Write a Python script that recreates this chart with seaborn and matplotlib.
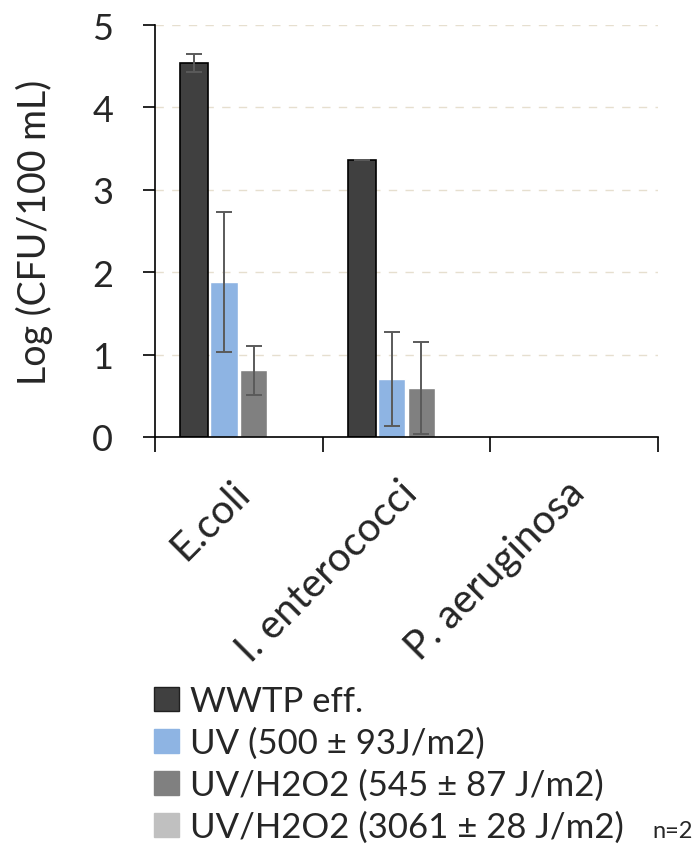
import matplotlib
matplotlib.use("Agg")
from matplotlib import pyplot as plt
from matplotlib.patches import Patch
from matplotlib.container import BarContainer
import matplotlib.transforms as mtrans
import seaborn as sns
import numpy as np
import pandas as pd

# 数据
categories = ["E.coli", "I. enterococci", "P. aeruginosa"]
series = ["WWTP eff.", "UV (500 ± 93J/m2)", "UV/H2O2 (545 ± 87 J/m2)", "UV/H2O2 (3061 ± 28 J/m2)"]
wwtp = [4.54, 3.36, 0.0]
uv = [1.88, 0.70, 0.0]
uvh2o2_low = [0.81, 0.59, 0.0]
uvh2o2_high = [0.0, 0.0, 0.0]
wwtp_err = [0.11, 0.0, 0.0]
uv_err = [0.85, 0.57, 0.0]
uvh2o2_low_err = [0.30, 0.56, 0.0]
uvh2o2_high_err = [0.0, 0.0, 0.0]

colors = ["#404040", "#8EB4E3", "#808080", "#C0C0C0"]

values = [wwtp, uv, uvh2o2_low, uvh2o2_high]
errors = [wwtp_err, uv_err, uvh2o2_low_err, uvh2o2_high_err]
rows = []
for s, v in zip(series, values):
    for c, y in zip(categories, v):
        rows.append({"cat": c, "series": s, "val": y})
df = pd.DataFrame(rows)

sns.set_style("white")
plt.rcParams['font.family'] = ['Lato', 'DejaVu Sans']

fig = plt.figure(figsize=(6.95, 8.45), dpi=100)
ax = fig.add_axes([0.223, 0.4817, 0.724, 0.4875])

sns.barplot(data=df, x="cat", y="val", hue="series", order=categories,
            hue_order=series, palette=colors, width=0.71, gap=0.08,
            saturation=1, errorbar=None, legend=False, ax=ax)

# 误差棒，按柱子位置画
barConts = [c for c in ax.containers if isinstance(c, BarContainer)]
for k, cont in enumerate(barConts):
    for j, p in enumerate(cont.patches):
        if values[k][j] <= 0:
            p.set_linewidth(0)
            continue
        if k == 0:
            p.set_edgecolor("black")
            p.set_linewidth(1.2)
        xc = p.get_x() + p.get_width() / 2
        ax.errorbar(xc, values[k][j], yerr=errors[k][j], color="#5a5a5a",
                    lw=1.4, capsize=6, capthick=1.4, fmt="none", zorder=5)

ax.set_ylim(0, 5)
ax.set_xlim(-0.5, 2.5)
ax.set_yticks(range(0, 6))
ax.yaxis.grid(True, linestyle=(0, (6, 6)), color="#E6DFCF", lw=1)
ax.set_axisbelow(True)

for s in ["top", "right"]:
    ax.spines[s].set_visible(False)
for s in ["left", "bottom"]:
    ax.spines[s].set_color("black")
    ax.spines[s].set_linewidth(1.2)

ax.tick_params(axis="y", direction="out", length=9, width=1.2, pad=21,
               labelsize=26, left=True, color="black")
ax.set_xticks([-0.5, 0.5, 1.5, 2.5], minor=True)
ax.tick_params(axis="x", which="minor", direction="out", length=11, width=1.2,
               bottom=True, color="black")
ax.tick_params(axis="x", which="major", length=0, pad=26, labelsize=29)
ax.set_xticks(range(len(categories)))
ax.set_xticklabels(categories, rotation=45, ha="right", rotation_mode="anchor")
# 标签稍微左移
shift = mtrans.ScaledTranslation(-6 / 72, 0, fig.dpi_scale_trans)
for lbl in ax.get_xticklabels():
    lbl.set_transform(lbl.get_transform() + shift)

ax.set_xlabel("")
ax.set_ylabel("Log (CFU/100 mL)", fontsize=27)
ax.yaxis.set_label_coords(-0.203, 0.5)

handles = [Patch(facecolor=c, edgecolor=("#202020" if i == 0 else c))
           for i, c in enumerate(colors)]
fig.legend(handles, series, loc="upper left", bbox_to_anchor=(0.222, 0.188),
           frameon=False, fontsize=25, handlelength=0.72, handleheight=0.72,
           handletextpad=0.32, labelspacing=0.28, borderaxespad=0,
           borderpad=0)

fig.text(0.938, 0.008, "n=2", fontsize=17, va="baseline")

plt.savefig("out.png", dpi=100)
plt.close()
